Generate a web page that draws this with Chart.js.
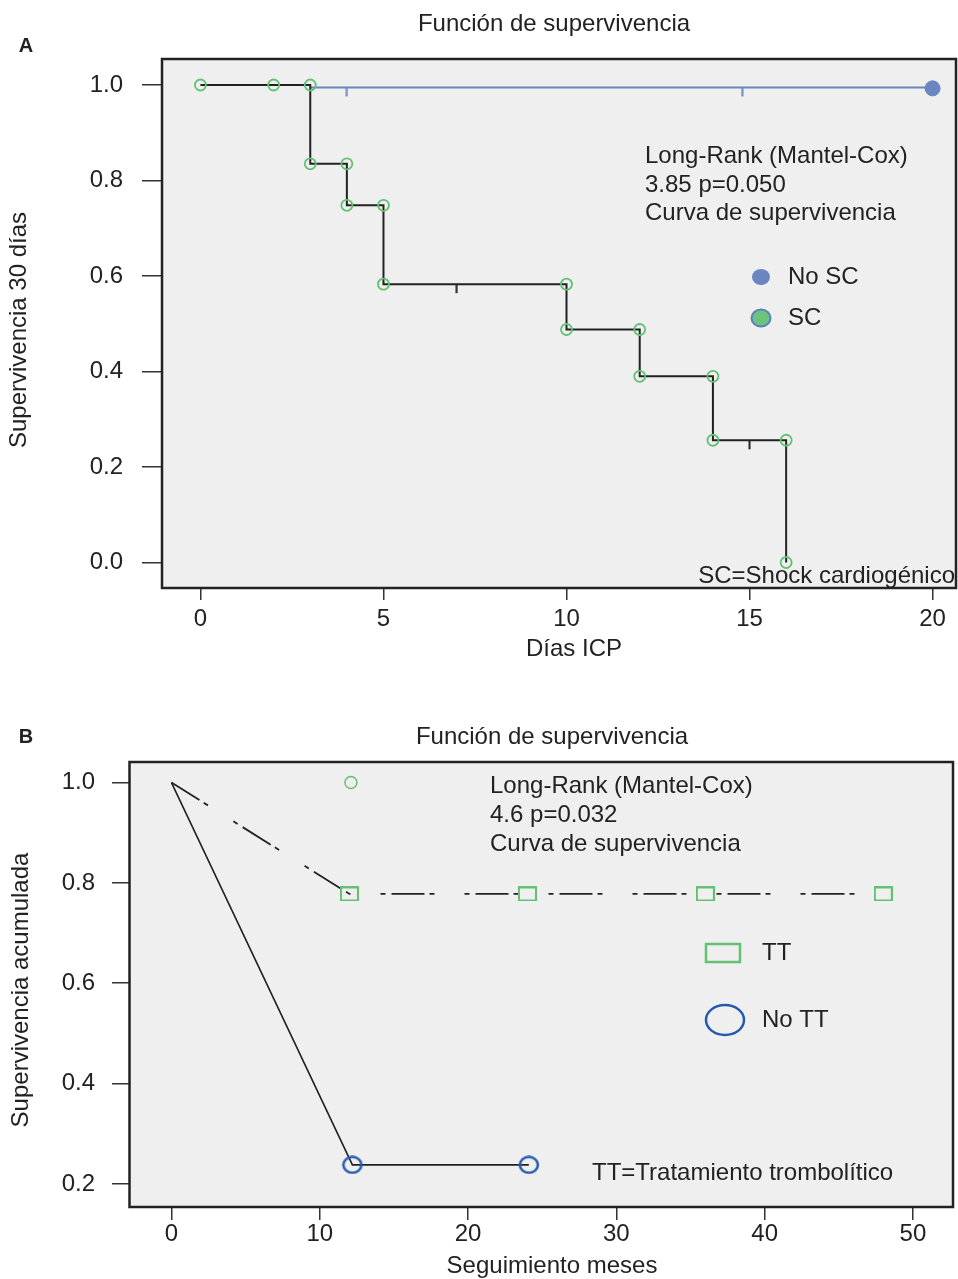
<!DOCTYPE html>
<html>
<head>
<meta charset="utf-8">
<script src="https://cdn.jsdelivr.net/npm/chart.js@4.4.1/dist/chart.umd.min.js"></script>
<style>
  body { margin: 0; background: #fff; }
  canvas { display: block; }
</style>
</head>
<body>
<canvas id="chartA" width="958" height="690"></canvas>
<canvas id="chartB" width="958" height="589"></canvas>
<script>
// ---- panel A: dias ICP ----
const scDays = [0, 3, 4, 5, 10, 12, 14, 16];
const scSurv = [1.0, 0.835, 0.748, 0.583, 0.488, 0.39, 0.256, 0.0];
const scMarkDays = [0, 2, 3, 3, 4, 4, 5, 5, 10, 10, 12, 12, 14, 14, 16, 16];
const scMarkSurv = [1.0, 1.0, 1.0, 0.835, 0.835, 0.748, 0.748, 0.583, 0.583, 0.488, 0.488, 0.39, 0.39, 0.256, 0.256, 0.0];
const scCensorDays = [7, 15];
const scCensorSurv = [0.583, 0.256];
const noScDays = [3, 20];
const noScSurv = [0.995, 0.995];
const noScCensorDays = [4, 14.8];
const noScCensorSurv = [0.995, 0.995];
const noScEndDay = [20];
const noScEndSurv = [0.993];
const xTicksA = [0, 5, 10, 15, 20];
const yTicksA = [0, 0.2, 0.4, 0.6, 0.8, 1.0];

// ---- panel B: seguimiento meses ----
const ttMonths = [0, 12, 24, 36, 48];
const ttSurv = [1.0, 0.778, 0.778, 0.778, 0.778];
const ttMarkMonths = [12, 24, 36, 48];
const ttMarkSurv = [0.778, 0.778, 0.778, 0.778];
const noTtMonths = [0, 12.2, 24.1];
const noTtSurv = [1.0, 0.238, 0.238];
const noTtMarkMonths = [12.2, 24.1];
const noTtMarkSurv = [0.238, 0.238];
const otherMonth = [12.1];
const otherSurv = [1.0];
const xTicksB = [0, 10, 20, 30, 40, 50];
const yTicksB = [0.2, 0.4, 0.6, 0.8, 1.0];

const FONT = "'Liberation Sans', Arial, sans-serif";
const INK = '#222';
const GREEN = '#62c173';
const BLUE_A = '#6a86c0';
const BLUE_B = '#2459ad';

const pts = (xs, ys) => xs.map((x, i) => ({ x: x, y: ys[i] }));

function sprite(w, h, draw) {
  const c = document.createElement('canvas');
  c.width = w; c.height = h;
  draw(c.getContext('2d'), w, h);
  return c;
}
// censor tick hanging below the line
const tickDown = color => sprite(3, 20, g => {
  g.strokeStyle = color; g.lineWidth = 2;
  g.beginPath(); g.moveTo(1.5, 10); g.lineTo(1.5, 19); g.stroke();
});
const squareMark = sprite(19, 15, g => {
  g.strokeStyle = GREEN; g.lineWidth = 2; g.strokeRect(1, 1, 17, 13);
});
const ellipseMark = sprite(22, 19, g => {
  g.strokeStyle = BLUE_B; g.lineWidth = 2.5;
  g.beginPath(); g.ellipse(11, 9.5, 9, 8, 0, 0, Math.PI * 2); g.stroke();
});

function text(ctx, s, x, y, size, align, weight) {
  ctx.font = (weight || '') + ' ' + size + 'px ' + FONT;
  ctx.fillStyle = INK;
  ctx.textAlign = align || 'left';
  ctx.textBaseline = 'middle';
  ctx.fillText(s, x, y);
}
function vtext(ctx, s, x, y, size) {
  ctx.save();
  ctx.translate(x, y);
  ctx.rotate(-Math.PI / 2);
  text(ctx, s, 0, 0, size, 'center');
  ctx.restore();
}

const frame = {
  id: 'frame',
  beforeDraw(chart) {
    const { ctx, chartArea: a } = chart;
    ctx.save();
    ctx.fillStyle = '#efefef';
    ctx.fillRect(a.left, a.top, a.right - a.left, a.bottom - a.top);
    ctx.restore();
  },
  afterDraw(chart) {
    const { ctx, chartArea: a } = chart;
    ctx.save();
    ctx.strokeStyle = INK; ctx.lineWidth = 2.5;
    ctx.strokeRect(a.left, a.top, a.right - a.left, a.bottom - a.top);
    ctx.restore();
  }
};

function axes(o) {
  const tickFont = { family: FONT, size: 24 };
  return {
    x: {
      type: 'linear', min: o.xMin, max: o.xMax,
      afterBuildTicks: s => { s.ticks = o.xTicks.map(v => ({ value: v })); },
      afterFit: s => { s.height = o.xH; s.paddingLeft = 0; s.paddingRight = 0; },
      grid: { drawOnChartArea: false, tickLength: o.xTl, color: '#333', lineWidth: 1.5 },
      border: { display: false },
      ticks: { font: tickFont, color: INK, padding: o.xPad, maxRotation: 0, autoSkip: false,
               callback: v => String(v) }
    },
    y: {
      type: 'linear', min: o.yMin, max: o.yMax,
      afterBuildTicks: s => { s.ticks = o.yTicks.map(v => ({ value: v })); },
      afterFit: s => { s.width = o.yW; s.paddingTop = 0; s.paddingBottom = 0; },
      grid: { drawOnChartArea: false, tickLength: o.yTl, color: '#333', lineWidth: 1.5 },
      border: { display: false },
      ticks: { font: tickFont, color: INK, padding: o.yPad, autoSkip: false,
               callback: v => v.toFixed(1) }
    }
  };
}

const common = {
  responsive: false,
  animation: false,
  devicePixelRatio: 1,
  plugins: { legend: { display: false }, tooltip: { enabled: false } }
};

// ---------------- chart A ----------------
const decorA = {
  id: 'decorA',
  afterDraw(chart) {
    const ctx = chart.ctx;
    ctx.save();
    text(ctx, 'A', 26, 46, 20, 'center', 'bold');
    text(ctx, 'Función de supervivencia', 554, 24, 24, 'center');
    vtext(ctx, 'Supervivencia 30 días', 19, 330, 24);
    text(ctx, 'Días ICP', 574, 649, 24, 'center');
    text(ctx, 'Long-Rank (Mantel-Cox)', 645, 156, 24);
    text(ctx, '3.85 p=0.050', 645, 185, 24);
    text(ctx, 'Curva de supervivencia', 645, 213, 24);
    ctx.fillStyle = BLUE_A;
    ctx.beginPath(); ctx.ellipse(761, 277, 9, 8, 0, 0, Math.PI * 2); ctx.fill();
    ctx.fillStyle = '#6cc47c'; ctx.strokeStyle = '#5b80c0'; ctx.lineWidth = 2;
    ctx.beginPath(); ctx.ellipse(761, 318, 9.5, 8.5, 0, 0, Math.PI * 2); ctx.fill(); ctx.stroke();
    text(ctx, 'No SC', 788, 277, 24);
    text(ctx, 'SC', 788, 318, 24);
    text(ctx, 'SC=Shock cardiogénico', 955, 576, 24, 'right');
    ctx.restore();
  }
};

new Chart(document.getElementById('chartA'), {
  type: 'scatter',
  data: {
    datasets: [
      { data: pts(scMarkDays, scMarkSurv), pointStyle: 'circle', pointRadius: 5.5,
        borderColor: GREEN, backgroundColor: 'rgba(0,0,0,0)', borderWidth: 1.8 },
      { data: pts(noScEndDay, noScEndSurv), pointRadius: 7.5, backgroundColor: BLUE_A, borderColor: BLUE_A },
      { data: pts(scCensorDays, scCensorSurv), pointStyle: tickDown('#222'), pointRadius: 5 },
      { data: pts(noScCensorDays, noScCensorSurv), pointStyle: tickDown(BLUE_A), pointRadius: 5 },
      { data: pts(scDays, scSurv), showLine: true, stepped: 'before', pointRadius: 0,
        borderColor: INK, borderWidth: 2 },
      { data: pts(noScDays, noScSurv), showLine: true, pointRadius: 0,
        borderColor: BLUE_A, borderWidth: 2 }
    ]
  },
  options: Object.assign({}, common, {
    layout: { autoPadding: false, padding: { left: 0, top: 59, right: 2, bottom: 27 } },
    scales: axes({
      xMin: -1.05, xMax: 20.64, xTicks: xTicksA, xH: 75, xTl: 12, xPad: 5,
      yMin: -0.0534, yMax: 1.0545, yTicks: yTicksA, yW: 162, yTl: 20, yPad: 19
    })
  }),
  plugins: [frame, decorA]
});

// ---------------- chart B ----------------
const decorB = {
  id: 'decorB',
  afterDraw(chart) {
    const ctx = chart.ctx;
    ctx.save();
    text(ctx, 'B', 26, 47, 20, 'center', 'bold');
    text(ctx, 'Función de supervivencia', 552, 47, 24, 'center');
    vtext(ctx, 'Supervivencia acumulada', 21, 300, 24);
    text(ctx, 'Seguimiento meses', 552, 576, 24, 'center');
    text(ctx, 'Long-Rank (Mantel-Cox)', 490, 96, 24);
    text(ctx, '4.6 p=0.032', 490, 125, 24);
    text(ctx, 'Curva de supervivencia', 490, 154, 24);
    ctx.strokeStyle = GREEN; ctx.lineWidth = 2.5;
    ctx.strokeRect(706, 254, 34, 18);
    ctx.strokeStyle = BLUE_B;
    ctx.beginPath(); ctx.ellipse(725, 330, 19, 15, 0, 0, Math.PI * 2); ctx.stroke();
    text(ctx, 'TT', 762, 263, 24);
    text(ctx, 'No TT', 762, 330, 24);
    text(ctx, 'TT=Tratamiento trombolítico', 592, 483, 24);
    ctx.restore();
  }
};

new Chart(document.getElementById('chartB'), {
  type: 'scatter',
  data: {
    datasets: [
      { data: pts(ttMarkMonths, ttMarkSurv), pointStyle: squareMark, pointRadius: 5 },
      { data: pts(noTtMarkMonths, noTtMarkSurv), pointStyle: ellipseMark, pointRadius: 5 },
      { data: pts(otherMonth, otherSurv), pointStyle: 'circle', pointRadius: 6,
        borderColor: GREEN, backgroundColor: 'rgba(0,0,0,0)', borderWidth: 1.5 },
      { data: pts(ttMonths, ttSurv), showLine: true, pointRadius: 0, borderColor: INK,
        borderWidth: 1.8, borderDash: [33, 5, 5, 30, 5, 6] },
      { data: pts(noTtMonths, noTtSurv), showLine: true, pointRadius: 0, borderColor: INK,
        borderWidth: 1.6 }
    ]
  },
  options: Object.assign({}, common, {
    layout: { autoPadding: false, padding: { left: 0, top: 72, right: 5, bottom: 0 } },
    scales: axes({
      xMin: -2.83, xMax: 52.7, xTicks: xTicksB, xH: 72, xTl: 13, xPad: 0,
      yMin: 0.154, yMax: 1.041, yTicks: yTicksB, yW: 129.5, yTl: 17.5, yPad: 17
    })
  }),
  plugins: [frame, decorB]
});
</script>
</body>
</html>
